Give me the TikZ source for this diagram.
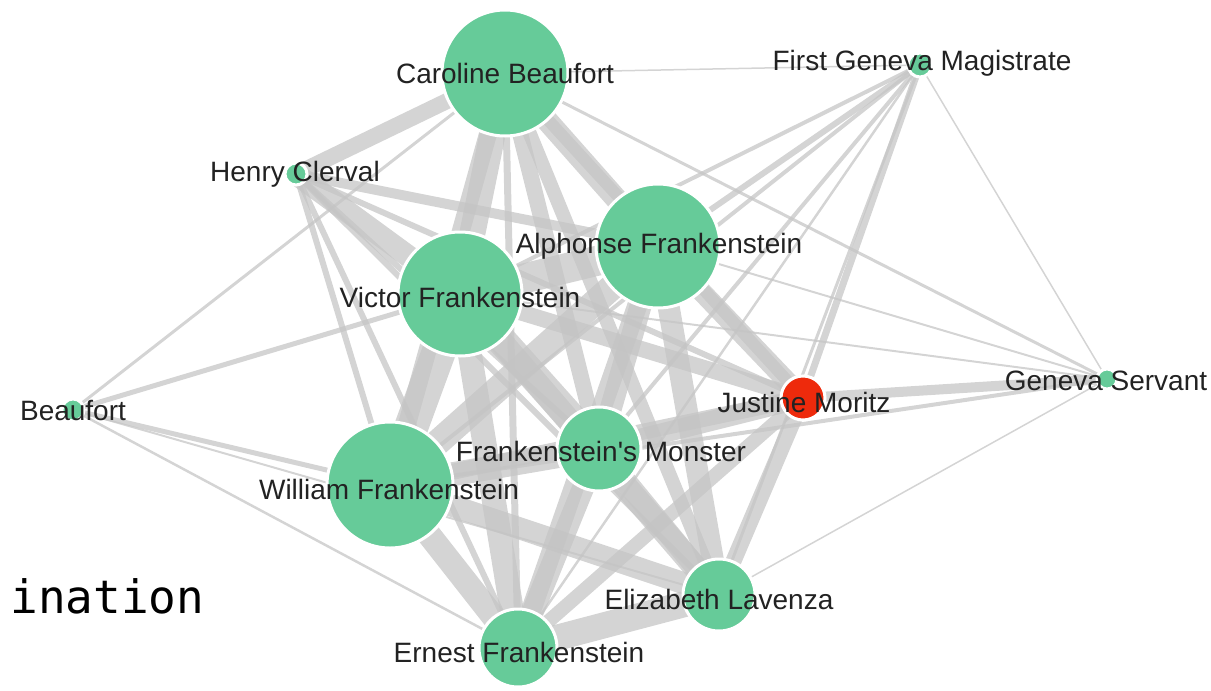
\documentclass[tikz,border=0pt]{standalone}
\usepackage{fontspec}
\setmainfont{Liberation Sans}
\newfontfamily\codefont{DejaVu Sans Mono}
\usetikzlibrary{backgrounds}

\definecolor{nodegreen}{RGB}{102,203,153}
\definecolor{nodered}{RGB}{238,42,12}
\definecolor{linkgray}{RGB}{196,196,196}
\definecolor{labelgray}{RGB}{34,34,34}

\begin{document}
\begin{tikzpicture}[x=0.5pt,y=-0.5pt,
    person/.style={circle,fill=nodegreen,draw=white,line width=1.5pt,inner sep=0pt},
    charlabel/.style={text=labelgray,font=\fontsize{14}{16}\selectfont,inner sep=0pt},
    link/.style={draw=linkgray,draw opacity=0.72}]

    \useasboundingbox (0,0) rectangle (1211,691);

    % characters
    \node[person,minimum size=63pt] (caroline) at (505,73) {};
    \node[person,minimum size=12pt] (magistrate) at (920,65) {};
    \node[person,minimum size=11pt] (henry) at (296,174) {};
    \node[person,minimum size=62pt] (alphonse) at (658,246) {};
    \node[person,minimum size=62pt] (victor) at (460,294) {};
    \node[person,minimum size=11pt] (beaufort) at (73,410) {};
    \node[person,fill=nodered,minimum size=22pt] (justine) at (803,398) {};
    \node[person,minimum size=10pt] (servant) at (1107,379) {};
    \node[person,minimum size=42pt] (monster) at (599,449) {};
    \node[person,minimum size=63pt] (william) at (390,485) {};
    \node[person,minimum size=36pt] (elizabeth) at (719,595) {};
    \node[person,minimum size=39pt] (ernest) at (518,648) {};

    % links, width in pt
    \begin{scope}[on background layer]
    \foreach \a/\b/\w in {
        caroline/alphonse/11, caroline/victor/13, caroline/william/9,
        caroline/monster/8, caroline/justine/6, caroline/elizabeth/7,
        caroline/ernest/3.5, caroline/henry/8, caroline/servant/1.5,
        caroline/magistrate/0.75, caroline/beaufort/1.5,
        alphonse/victor/15, alphonse/william/13, alphonse/monster/11,
        alphonse/justine/10, alphonse/elizabeth/11, alphonse/ernest/10,
        alphonse/henry/5, alphonse/servant/1, alphonse/magistrate/3,
        victor/william/17, victor/monster/15, victor/justine/8,
        victor/elizabeth/12, victor/ernest/12, victor/henry/11,
        victor/beaufort/2.5, victor/servant/1, victor/magistrate/2,
        william/monster/12, william/justine/8, william/elizabeth/11,
        william/ernest/12, william/henry/3, william/beaufort/2.5,
        william/servant/2, william/magistrate/2,
        monster/justine/10, monster/elizabeth/11, monster/ernest/11,
        monster/henry/3, monster/magistrate/2,
        justine/elizabeth/8, justine/ernest/7, justine/servant/5,
        justine/magistrate/3.5, justine/henry/3,
        elizabeth/ernest/13, elizabeth/henry/3, elizabeth/beaufort/1,
        elizabeth/servant/0.75, elizabeth/magistrate/1.5,
        ernest/henry/3, ernest/beaufort/1.25, ernest/magistrate/1.25,
        magistrate/servant/0.75}
      \draw[link,line width=\w pt] (\a.center) -- (\b.center);
    \end{scope}

    % names
    \node[charlabel] (carolinename) at (505,73) {Caroline Beaufort};
    \node[charlabel] (magistratename) at (922,63) {First Geneva Magistrate};
    \node[charlabel] (henryname) at (295,174) {Henry Clerval};
    \node[charlabel] (alphonsename) at (659,246) {Alphonse Frankenstein};
    \node[charlabel] (victorname) at (460,297) {Victor Frankenstein};
    \node[charlabel] (beaufortname) at (73,411) {Beaufort};
    \node[charlabel] (justinename) at (804,402) {Justine Moritz};
    \node[charlabel] (servantname) at (1106,381) {Geneva Servant};
    \node[charlabel] (monstername) at (601,451) {Frankenstein\textquotesingle s Monster};
    \node[charlabel] (williamname) at (389,489) {William Frankenstein};
    \node[charlabel] (elizabethname) at (719,599) {Elizabeth Lavenza};
    \node[charlabel] (ernestname) at (519,652) {Ernest Frankenstein};

    \node[anchor=base west,inner sep=0pt,font=\codefont\fontsize{23}{26}\selectfont] (cutword) at (10,613) {ination};
\end{tikzpicture}
\end{document}
